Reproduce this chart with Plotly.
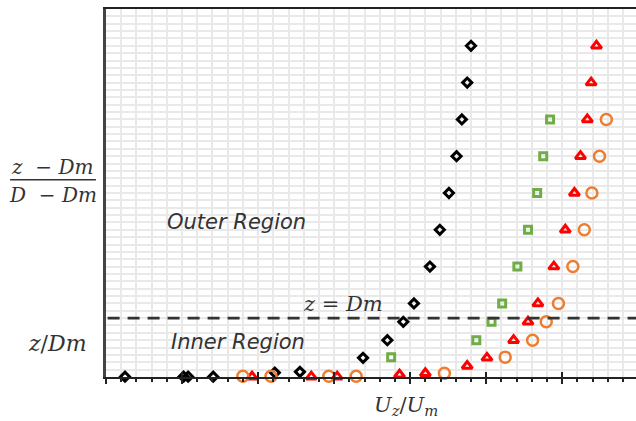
import plotly.graph_objects as go

# ---- data (x in units of U_z/U_m axis, y in z-units; dashed line at Z_DM) ----
black_x = [4.80, 4.75, 4.68, 4.61, 4.51, 4.39, 4.26, 4.05, 3.91, 3.70, 3.38, 2.55, 2.22, 1.41, 1.08, 1.02, 0.25]
black_y = [45, 40, 35, 30, 25, 20, 15, 10, 7.5, 5, 2.6, 0.7, 0.6, 0.05, 0.05, 0.05, 0.05]

green_x = [5.84, 5.75, 5.67, 5.55, 5.41, 5.21, 5.07, 4.87, 3.75]
green_y = [35, 30, 25, 20, 15, 10, 7.5, 5, 2.7]

red_x = [6.45, 6.38, 6.33, 6.24, 6.16, 6.04, 5.89, 5.68, 5.55, 5.36, 5.01, 4.75, 4.20, 3.86, 3.04, 2.70, 1.92]
red_y = [45, 40, 35, 30, 25, 20, 15, 10, 7.5, 5, 2.6, 1.5, 0.5, 0.3, 0.05, 0.05, 0.05]

orange_x = [6.58, 6.49, 6.39, 6.29, 6.14, 5.95, 5.79, 5.61, 5.25, 4.45, 3.29, 2.93, 2.17, 1.80]
orange_y = [35, 30, 25, 20, 15, 10, 7.5, 5, 2.7, 0.5, 0.1, 0.1, 0.1, 0.1]

Z_DM = 8.0
X_RANGE = [0, 6.97]
Y_RANGE = [0, 50]

GRID = "#e9e9e9"

fig = go.Figure()
fig.add_trace(go.Scatter(x=black_x, y=black_y, mode="markers", cliponaxis=False,
                         marker=dict(symbol="diamond-open", size=7, color="black", line=dict(width=3))))
fig.add_trace(go.Scatter(x=green_x, y=green_y, mode="markers", cliponaxis=False,
                         marker=dict(symbol="square-open", size=7, color="#70AD47", line=dict(width=3))))
fig.add_trace(go.Scatter(x=red_x, y=red_y, mode="markers", cliponaxis=False,
                         marker=dict(symbol="triangle-up-open", size=9, color="#FF0000", line=dict(width=3))))
fig.add_trace(go.Scatter(x=orange_x, y=orange_y, mode="markers", cliponaxis=False,
                         marker=dict(symbol="circle-open", size=11, color="#ED7D31", line=dict(width=2.5))))
# invisible trace to activate the overlay axis used for inward major ticks
fig.add_trace(go.Scatter(x=[None], y=[None], xaxis="x2", yaxis="y", showlegend=False, hoverinfo="skip"))

fig.add_shape(type="line", xref="paper", yref="y", x0=0.003, x1=1, y0=Z_DM, y1=Z_DM,
              line=dict(color="#333333", width=2.8, dash="12px,8px"))

# fraction line for y label
fig.add_shape(type="line", xref="paper", yref="y", x0=-0.181, x1=-0.019, y0=26.8, y1=26.8,
              line=dict(color="#333333", width=1.5))

serif = "DejaVu Serif"
sans = "DejaVu Sans"
ann = [
    dict(x=1.71, y=21.0, xref="x", yref="y", text="<i>Outer Region</i>", font=dict(family=sans, size=21, color="#333333")),
    dict(x=1.74, y=4.7, xref="x", yref="y", text="<i>Inner Region</i>", font=dict(family=sans, size=21, color="#333333")),
    dict(x=3.12, y=9.9, xref="x", yref="y", text="<i>z</i> = <i>Dm</i>", font=dict(family=serif, size=21, color="#333333")),
    dict(x=-0.0906, y=4.6, xref="paper", yref="y", text="<i>z</i>/<i>Dm</i>", font=dict(family=serif, size=22, color="#333333")),
    dict(x=-0.102, y=28.6, xref="paper", yref="y", text="<i>z</i>  − <i>Dm</i>", font=dict(family=serif, size=20, color="#333333")),
    dict(x=-0.10, y=24.7, xref="paper", yref="y", text="<i>D</i>  − <i>Dm</i>", font=dict(family=serif, size=20, color="#333333")),
    dict(x=3.95, y=-0.078, xref="x", yref="paper", text="<i>U</i><sub><i>z</i></sub>/<i>U</i><sub><i>m</i></sub>",
         font=dict(family=serif, size=21, color="#333333")),
]
for a in ann:
    a.update(showarrow=False, xanchor="center", yanchor="middle")
fig.update_layout(annotations=ann)

fig.update_layout(
    width=636, height=421,
    margin=dict(l=106, r=0, t=9, b=44),
    paper_bgcolor="white", plot_bgcolor="white",
    showlegend=False,
    xaxis=dict(range=X_RANGE, tick0=0, dtick=1, showticklabels=False,
               ticks="outside", ticklen=5, tickwidth=2, tickcolor="#222",
               showgrid=True, gridcolor=GRID, gridwidth=1.6, zeroline=False,
               showline=True, linecolor="#222", linewidth=2, mirror=True,
               minor=dict(dtick=0.2, tick0=0, ticks="outside", ticklen=3, tickwidth=2, tickcolor="#222",
                          showgrid=True, gridcolor=GRID, gridwidth=1.6)),
    xaxis2=dict(range=X_RANGE, overlaying="x", anchor="y", side="bottom", tick0=0, dtick=1,
                ticks="inside", ticklen=5, tickwidth=2, tickcolor="#222", showticklabels=False,
                showgrid=False, zeroline=False, showline=False),
    yaxis=dict(range=Y_RANGE, dtick=1, showticklabels=False, ticks="",
               showgrid=True, gridcolor=GRID, gridwidth=1.6, zeroline=False,
               showline=True, linecolor="#444", linewidth=2.5),
)

fig.write_html("out.html")
